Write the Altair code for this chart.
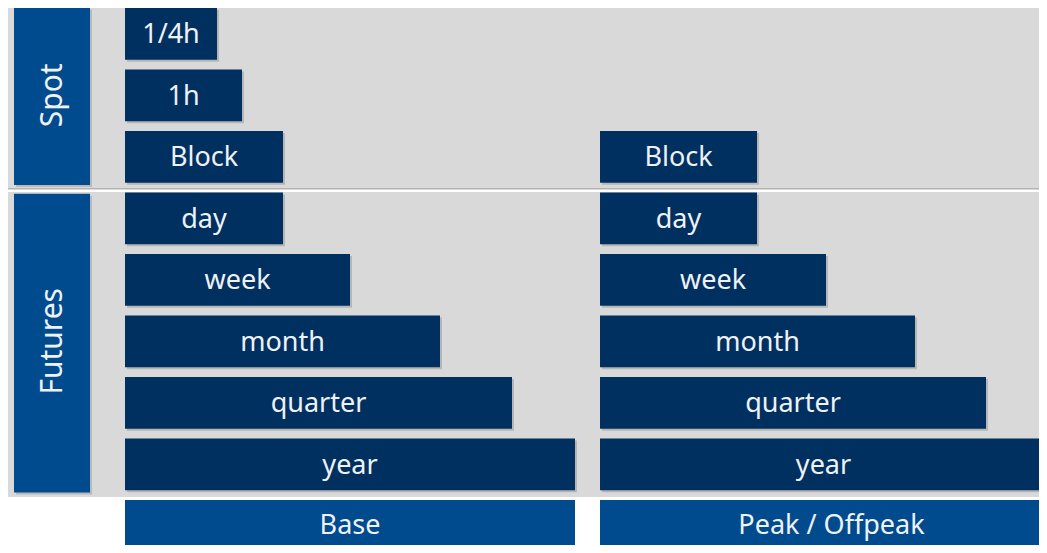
import altair as alt
import pandas as pd

# ---- data ----
rows = ["1/4h", "1h", "Block", "day", "week", "month", "quarter", "year"]
groups = ["Spot", "Spot", "Spot", "Futures", "Futures", "Futures", "Futures", "Futures"]
group_names = ["Spot", "Futures"]
columns = ["Base", "Peak / Offpeak"]
column_start = [0, 475]
base_len = [92, 117, 158, 158, 225, 315, 387, 450]
peak_len = [None, None, 157, 157, 226, 315, 386, 447]
column_len = [450, 447]

# ---- layout constants ----
W, H = 1031, 537
STEP = 61.5
X_MIN = -117
X_MAX = X_MIN + W
Y_MAX = H / STEP
BAND = 0.84
NAVY = "#00305f"
BLUE = "#004b8d"
GRAY = "#d9d9d9"
FONT = "Noto Sans"
TXT = "#eef2f7"

# bars
recs = []
for i, (r, g) in enumerate(zip(rows, groups)):
    for c, start, lens in zip(columns, column_start, [base_len, peak_len]):
        L = lens[i]
        if L is None:
            continue
        recs.append(dict(label=r, group=g, col=c, x=start, x2=start + L,
                         xm=start + L / 2, y=i, y2=i + BAND, ym=i + BAND / 2 + 0.02))
bars = pd.DataFrame(recs)

# bottom column labels
nrow = len(rows)
cols_df = pd.DataFrame(dict(label=columns, x=column_start,
                            x2=[s + l for s, l in zip(column_start, column_len)],
                            xm=[s + l / 2 + (8 if k == 1 else 0) for k, (s, l) in enumerate(zip(column_start, column_len))],
                            y=[nrow] * 2, y2=[nrow + BAND] * 2, ym=[nrow + BAND / 2] * 2))

# panels and group labels
prec = []
for gi, g in enumerate(group_names):
    idx = [i for i, gg in enumerate(groups) if gg == g]
    first, last = min(idx), max(idx)
    top = first - 0.02 if gi == 0 else first - 0.01
    bot = last + BAND + (0.10 if gi == 0 else 0.11)
    prec.append(dict(label=g, py=max(top, 0), py2=bot,
                     by=first - 0.01 if gi == 0 else first + 0.02,
                     by2=last + BAND + 0.04,
                     bym=(first + last + BAND) / 2))
panels = pd.DataFrame(prec)

xs = alt.Scale(domain=[X_MIN, X_MAX], nice=False, zero=False)
ys = alt.Scale(domain=[0, Y_MAX], nice=False, zero=False, reverse=True)

X = lambda f: alt.X(f, type="quantitative", scale=xs, axis=None)
Y = lambda f: alt.Y(f, type="quantitative", scale=ys, axis=None)

panel_layer = alt.Chart(panels).mark_rect(color=GRAY).encode(
    x=alt.X("xa:Q", scale=xs, axis=None), x2="xb:Q",
    y=Y("py"), y2="py2"
).transform_calculate(xa=str(X_MIN), xb=str(X_MAX))

sep = alt.Chart(panels.iloc[[0]]).mark_rule(color="#b3b3b3", strokeWidth=1.5).encode(
    x=alt.X("xa:Q", scale=xs, axis=None), x2="xb:Q",
    y=Y("py2")
).transform_calculate(xa=str(X_MIN), xb=str(X_MAX))

gbox_shadow = alt.Chart(panels).mark_rect(color="#9a9a9a", opacity=0.5, xOffset=2, yOffset=2, x2Offset=2, y2Offset=2).encode(
    x=alt.X("xa:Q", scale=xs, axis=None), x2="xb:Q",
    y=Y("by"), y2="by2"
).transform_calculate(xa="-111", xb="-35")

gbox = alt.Chart(panels).mark_rect(color=BLUE).encode(
    x=alt.X("xa:Q", scale=xs, axis=None), x2="xb:Q",
    y=Y("by"), y2="by2"
).transform_calculate(xa="-111", xb="-35")

gtext = alt.Chart(panels).mark_text(color=TXT, font=FONT, fontSize=30, angle=270,
                                    baseline="middle", align="center").encode(
    x=alt.X("xc:Q", scale=xs, axis=None), y=Y("bym"), text="label:N"
).transform_calculate(xc="-72")

shadow = alt.Chart(bars).mark_rect(color="#8c8c8c", opacity=0.45, xOffset=2, yOffset=2,
                                   x2Offset=2, y2Offset=2, clip=True).encode(
    x=X("x"), x2="x2", y=Y("y"), y2="y2")

bar_layer = alt.Chart(bars).mark_rect(color=NAVY, clip=True).encode(
    x=X("x"), x2="x2", y=Y("y"), y2="y2")

bar_text = alt.Chart(bars).mark_text(color=TXT, font=FONT, fontSize=27,
                                     baseline="middle", align="center").encode(
    x=X("xm"), y=Y("ym"), text="label:N")

col_layer = alt.Chart(cols_df).mark_rect(color=BLUE, clip=True).encode(
    x=X("x"), x2="x2", y=Y("y"), y2="y2")

col_text = alt.Chart(cols_df).mark_text(color=TXT, font=FONT, fontSize=27,
                                        baseline="middle", align="center").encode(
    x=X("xm"), y=Y("ym"), text="label:N")

chart = alt.layer(panel_layer, sep, gbox_shadow, gbox, gtext, shadow, bar_layer, bar_text,
                  col_layer, col_text).properties(
    width=W, height=H, autosize=alt.AutoSizeParams(type="none"), padding=0,
    background="white"
).configure_view(stroke=None)

chart.save("out.html", embed_options={"renderer": "svg", "actions": False})
